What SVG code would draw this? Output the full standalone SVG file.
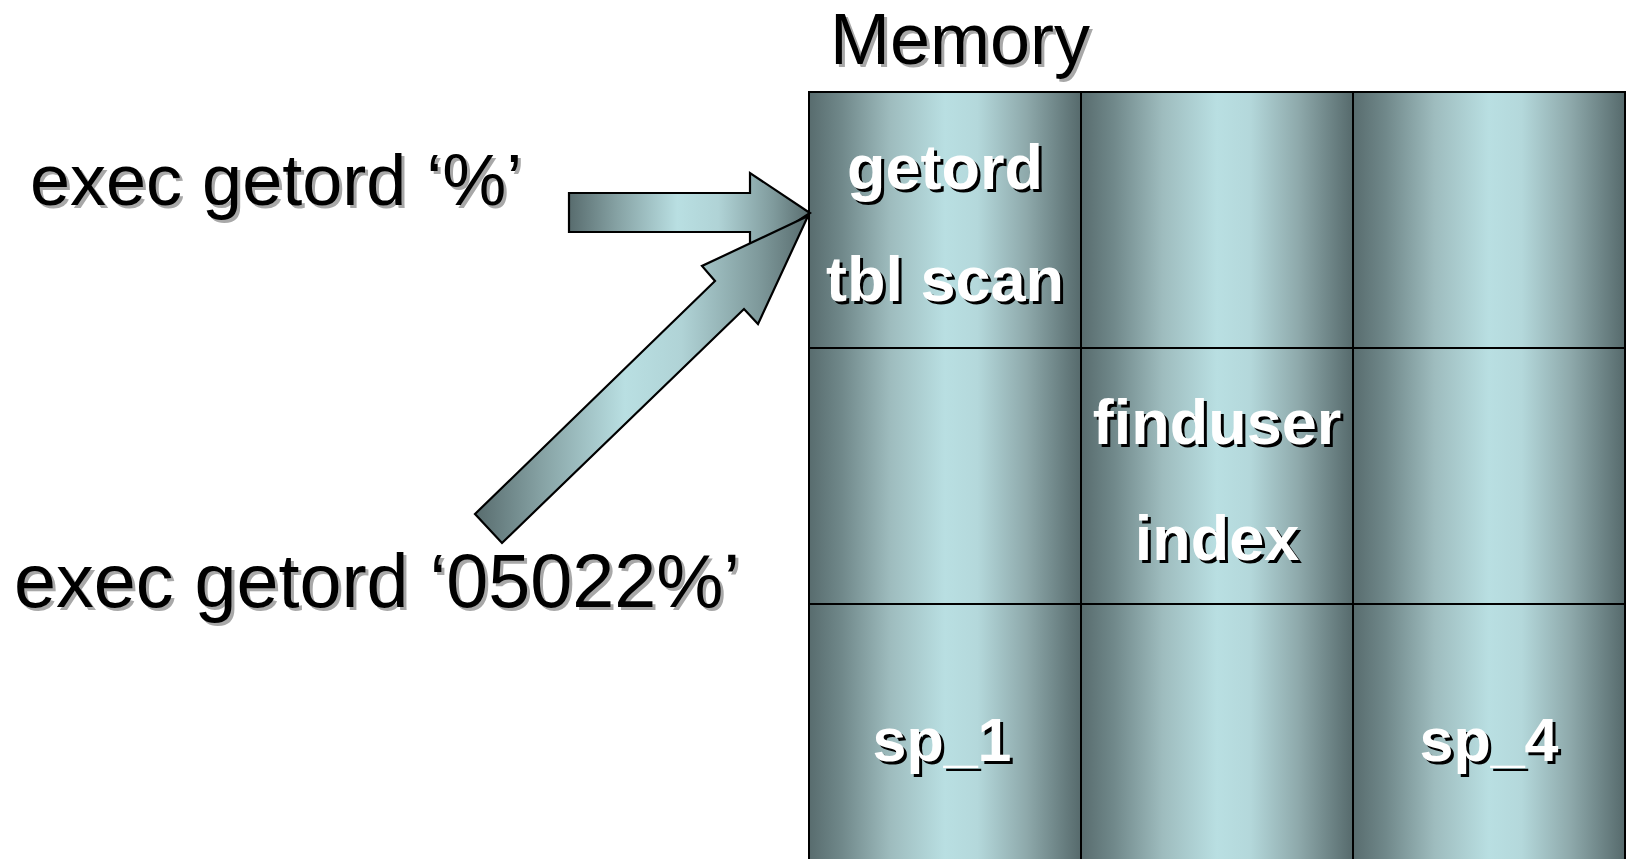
<svg xmlns="http://www.w3.org/2000/svg" width="1627" height="859" viewBox="0 0 1627 859">
<defs>
<linearGradient id="cellGrad" x1="0" y1="0" x2="1" y2="0">
<stop offset="0" stop-color="#586c6e"/>
<stop offset="0.12" stop-color="#70888a"/>
<stop offset="0.3" stop-color="#9ebcbe"/>
<stop offset="0.5" stop-color="#b9dfe2"/>
<stop offset="0.62" stop-color="#b4d8db"/>
<stop offset="0.8" stop-color="#8ea9ab"/>
<stop offset="1" stop-color="#566a6c"/>
</linearGradient>
<linearGradient id="arrowGrad" x1="0" y1="0" x2="1" y2="0">
<stop offset="0" stop-color="#586c6e"/>
<stop offset="0.2" stop-color="#86a2a4"/>
<stop offset="0.45" stop-color="#b9dfe2"/>
<stop offset="0.62" stop-color="#b0d3d6"/>
<stop offset="0.85" stop-color="#7f9a9c"/>
<stop offset="1" stop-color="#586c6e"/>
</linearGradient>
</defs>
<style>
.cell{fill:url(#cellGrad);stroke:#000;stroke-width:2}
.arrow{fill:url(#arrowGrad);stroke:#000;stroke-width:2.2;stroke-linejoin:miter}
.lbl{font-family:"Liberation Sans",Arial,sans-serif;font-size:72px;fill:#000}
.lblsh{font-family:"Liberation Sans",Arial,sans-serif;font-size:72px;fill:#a8a8a8}
.ct{font-family:"Liberation Sans",Arial,sans-serif;font-size:63px;font-weight:bold;fill:#fff;text-anchor:middle}
.cts{font-family:"Liberation Sans",Arial,sans-serif;font-size:63px;font-weight:bold;fill:#000;text-anchor:middle}
.sm{font-size:61px}
</style>
<rect width="1627" height="859" fill="#fff"/>

<g id="title">
<text class="lblsh" x="833" y="67">Memory</text>
<text class="lbl" x="830" y="64">Memory</text>
</g>

<g id="label-exec1">
<text class="lblsh" x="33" y="208">exec getord ‘%’</text>
<text class="lbl" x="30" y="205">exec getord ‘%’</text>
</g>

<g id="label-exec2">
<text class="lblsh" x="17" y="610" style="font-size:75.5px">exec getord ‘05022%’</text>
<text class="lbl" x="14" y="607" style="font-size:75.5px">exec getord ‘05022%’</text>
</g>

<g id="cell-r1c1">
<rect class="cell" x="809" y="92" width="272" height="256"/>
<text class="cts" x="948" y="192">getord</text>
<text class="ct" x="945" y="189">getord</text>
<text class="cts" x="948" y="304">tbl scan</text>
<text class="ct" x="945" y="301">tbl scan</text>
</g>
<g id="cell-r1c2"><rect class="cell" x="1081" y="92" width="272" height="256"/></g>
<g id="cell-r1c3"><rect class="cell" x="1353" y="92" width="272" height="256"/></g>

<g id="cell-r2c1"><rect class="cell" x="809" y="348" width="272" height="256"/></g>
<g id="cell-r2c2">
<rect class="cell" x="1081" y="348" width="272" height="256"/>
<text class="cts" x="1220" y="447">finduser</text>
<text class="ct" x="1217" y="444">finduser</text>
<text class="cts" x="1220" y="563">index</text>
<text class="ct" x="1217" y="560">index</text>
</g>
<g id="cell-r2c3"><rect class="cell" x="1353" y="348" width="272" height="256"/></g>

<g id="cell-r3c1">
<rect class="cell" x="809" y="604" width="272" height="260"/>
<text class="cts sm" x="945" y="764">sp_1</text>
<text class="ct sm" x="942" y="761">sp_1</text>
</g>
<g id="cell-r3c2"><rect class="cell" x="1081" y="604" width="272" height="260"/></g>
<g id="cell-r3c3">
<rect class="cell" x="1353" y="604" width="272" height="260"/>
<text class="cts sm" x="1492" y="764">sp_4</text>
<text class="ct sm" x="1489" y="761">sp_4</text>
</g>

<g id="connectors">
<polygon class="arrow" points="569,193 750,193 750,173 810,213 750,252 750,232 569,232"/>
<polygon class="arrow" points="475,514 715,281 702,266 808,216 758,324 744,309 502,543"/>
</g>
</svg>
